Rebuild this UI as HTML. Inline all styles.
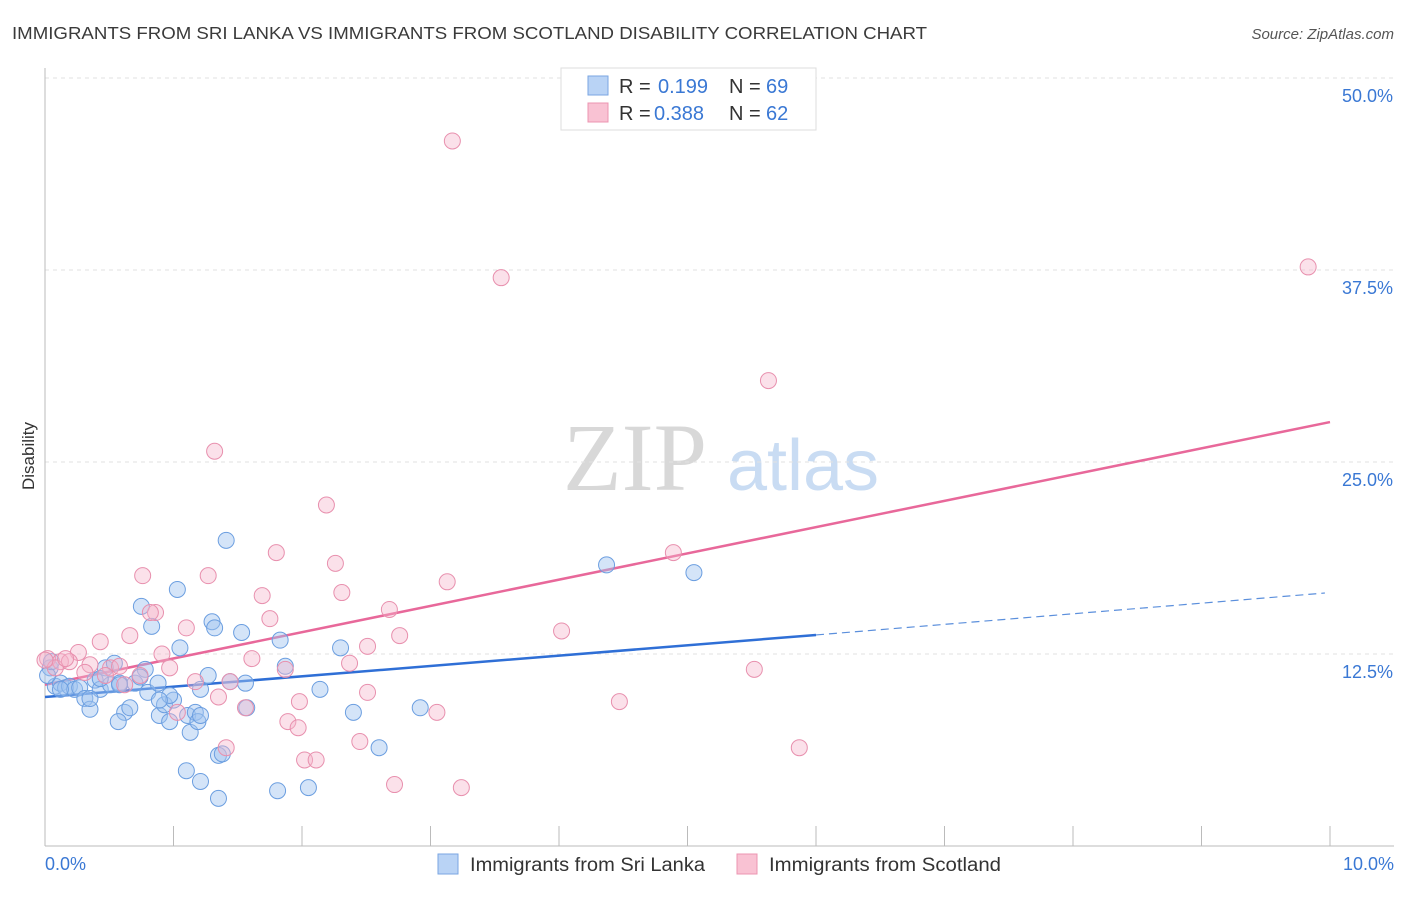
<!DOCTYPE html>
<html><head><meta charset="utf-8"><style>
body{margin:0;background:#fff;font-family:"Liberation Sans",sans-serif}
svg text{font-family:"Liberation Sans",sans-serif}
</style></head><body>
<svg id="chart" width="1406" height="892" xmlns="http://www.w3.org/2000/svg">
<text x="12" y="39" font-size="17.5" fill="#3a3a3a" textLength="915" lengthAdjust="spacingAndGlyphs">IMMIGRANTS FROM SRI LANKA VS IMMIGRANTS FROM SCOTLAND DISABILITY CORRELATION CHART</text>
<text x="1394" y="39" font-size="15" fill="#555" font-style="italic" text-anchor="end">Source: ZipAtlas.com</text>
<text transform="translate(34,456) rotate(-90)" font-size="17" fill="#333" text-anchor="middle">Disability</text>
<g>
<text x="635" y="490" font-size="96" fill="#d8d8d8" text-anchor="middle" font-family="Liberation Serif" style="font-family:'Liberation Serif',serif">ZIP</text>
<text x="803" y="490" font-size="72" fill="#c9dcf3" text-anchor="middle">atlas</text>
</g>
<g id="grid"></g><g id="axes"></g><g id="lines"></g><g id="points"></g>
<g>
<rect x="561" y="68" width="255" height="62" fill="#fff" stroke="#ddd"/>
<rect x="588" y="76" width="20" height="19" fill="#b9d3f5" stroke="#7aa6e2"/>
<rect x="588" y="103" width="20" height="19" fill="#f9c2d3" stroke="#ec94b0"/>
<text x="619" y="93" font-size="20" fill="#333">R =</text>
<text x="658" y="93" font-size="20" fill="#3a78d4">0.199</text>
<text x="729" y="93" font-size="20" fill="#333">N =</text>
<text x="766" y="93" font-size="20" fill="#3a78d4">69</text>
<text x="619" y="120" font-size="20" fill="#333">R =</text>
<text x="654" y="120" font-size="20" fill="#3a78d4">0.388</text>
<text x="729" y="120" font-size="20" fill="#333">N =</text>
<text x="766" y="120" font-size="20" fill="#3a78d4">62</text>
</g>
<g>
<rect x="438" y="854" width="20" height="20" fill="#b9d3f5" stroke="#7aa6e2"/>
<text x="470" y="871" font-size="19" fill="#333" textLength="235" lengthAdjust="spacingAndGlyphs">Immigrants from Sri Lanka</text>
<rect x="737" y="854" width="20" height="20" fill="#f9c2d3" stroke="#ec94b0"/>
<text x="769" y="871" font-size="19" fill="#333" textLength="232" lengthAdjust="spacingAndGlyphs">Immigrants from Scotland</text>
</g>
</svg>
<script>
const yTicks=[12.5,25,37.5,50];
const yTickLabels=["12.5%","25.0%","37.5%","50.0%"];
const xTicks=[0,1,2,3,4,5,6,7,8,9,10];
const xEndLabels=["0.0%","10.0%"];
const blueX=[0.04,0.08,0.12,0.16,0.19,0.23,0.27,0.31,0.35,0.39,0.43,0.47,0.51,0.54,0.58,0.62,0.57,0.66,0.70,0.75,0.78,0.80,0.83,0.88,0.89,0.93,0.97,1.00,1.03,1.05,1.11,1.13,1.17,1.19,1.21,1.27,1.30,1.32,1.35,1.38,1.41,1.44,1.53,1.56,1.57,1.10,1.21,1.35,1.81,1.83,1.87,2.05,2.14,2.30,2.40,2.60,2.92,4.37,5.05,0.02,0.05,0.58,0.35,0.74,0.97,1.21,0.89,0.43,0.12];
const blueY=[11.6,10.4,10.6,10.3,10.4,10.2,10.3,9.6,8.9,10.8,10.2,11.6,10.5,11.9,10.6,8.7,8.1,9.0,10.6,15.6,11.5,10.0,14.3,10.6,8.5,9.2,8.1,9.5,16.7,12.9,8.5,7.4,8.7,8.1,10.2,11.1,14.6,14.2,5.9,6.0,19.9,10.7,13.9,10.6,9.0,4.9,4.2,3.1,3.6,13.4,11.7,3.8,10.2,12.9,8.7,6.4,9.0,18.3,17.8,11.1,12.0,10.5,9.6,11.0,9.8,8.5,9.5,10.9,10.2];
const pinkX=[3.17,3.55,9.83,5.63,1.32,2.19,4.89,1.80,2.26,0.76,1.27,3.13,2.31,1.69,0.86,0.82,2.68,4.02,1.75,1.10,2.76,0.66,0.43,2.51,0.26,0.91,1.61,0.02,0.12,0.19,0.35,0.51,0.58,2.37,1.87,0.97,5.52,1.17,1.44,0.62,2.51,1.35,1.98,4.47,1.56,1.03,3.05,1.89,1.97,2.45,1.41,5.87,2.02,2.11,2.72,3.24,0.08,0.31,0.47,0.74,0.16,0.0];
const pinkY=[45.9,37.0,37.7,30.3,25.7,22.2,19.1,19.1,18.4,17.6,17.6,17.2,16.5,16.3,15.2,15.2,15.4,14.0,14.8,14.2,13.7,13.7,13.3,13.0,12.6,12.5,12.2,12.2,12.0,12.0,11.8,11.6,11.7,11.9,11.5,11.6,11.5,10.7,10.7,10.5,10.0,9.7,9.4,9.4,9.0,8.7,8.7,8.1,7.7,6.8,6.4,6.4,5.6,5.6,4.0,3.8,11.6,11.3,11.1,11.1,12.2,12.1];
const blueTrend=[9.7,13.74,16.47];
const blueTrendX=[0,6,9.96];
const pinkTrend=[10.5,27.6];
const pinkTrendX=[0,10];
const X=v=>45+v*128.5, Y=v=>846-v*15.36;
const NS="http://www.w3.org/2000/svg";
function mk(tag,attrs,parent){const e=document.createElementNS(NS,tag);for(const k in attrs)e.setAttribute(k,attrs[k]);parent.appendChild(e);return e;}
const grid=document.getElementById('grid'),axes=document.getElementById('axes'),lines=document.getElementById('lines'),pts=document.getElementById('points');
yTicks.forEach((t,i)=>{
 const l=mk('line',{x1:45,x2:1394,y1:Y(t),y2:Y(t),stroke:'#e2e2e2','stroke-dasharray':'4,4'},grid);
 
 
 const tx=mk('text',{x:1393,y:Y(t)+24,'font-size':18,fill:'#3a78d4','text-anchor':'end'},axes);
 tx.textContent=yTickLabels[i];
 
 
});
const ax=mk('line',{x1:45,x2:45,y1:68,y2:846,stroke:'#bbb'},axes);


const bx=mk('line',{x1:45,x2:1394,y1:846,y2:846,stroke:'#bbb'},axes);


xTicks.forEach(t=>{const l=mk('line',{x1:X(t),x2:X(t),y1:826,y2:846,stroke:'#bbb'},axes);
 
 });
const xl0=mk('text',{x:45,y:870,'font-size':18,fill:'#3a78d4'},axes);xl0.textContent=xEndLabels[0];


const xl1=mk('text',{x:1394,y:870,'font-size':18,fill:'#3a78d4','text-anchor':'end'},axes);xl1.textContent=xEndLabels[1];


blueX.forEach((v,i)=>{const c=mk('circle',{cx:X(v),cy:Y(blueY[i]),r:8,fill:'rgba(160,195,240,0.45)',stroke:'#6b9ee0','stroke-width':1},pts);
 
 });
pinkX.forEach((v,i)=>{const c=mk('circle',{cx:X(v),cy:Y(pinkY[i]),r:8,fill:'rgba(246,180,203,0.4)',stroke:'#e890ae','stroke-width':1},pts);
 
 });
const b1=mk('line',{x1:X(blueTrendX[0]),y1:Y(blueTrend[0]),x2:X(blueTrendX[1]),y2:Y(blueTrend[1]),stroke:'#2f6fd6','stroke-width':2.5},lines);


const b2=mk('line',{x1:X(blueTrendX[1]),y1:Y(blueTrend[1]),x2:X(blueTrendX[2]),y2:Y(blueTrend[2]),stroke:'#5b8fdc','stroke-width':1.2,'stroke-dasharray':'8,5'},lines);


const p1=mk('line',{x1:X(pinkTrendX[0]),y1:Y(pinkTrend[0]),x2:X(pinkTrendX[1]),y2:Y(pinkTrend[1]),stroke:'#e8689a','stroke-width':2.5},lines);


</script>
</body></html>
